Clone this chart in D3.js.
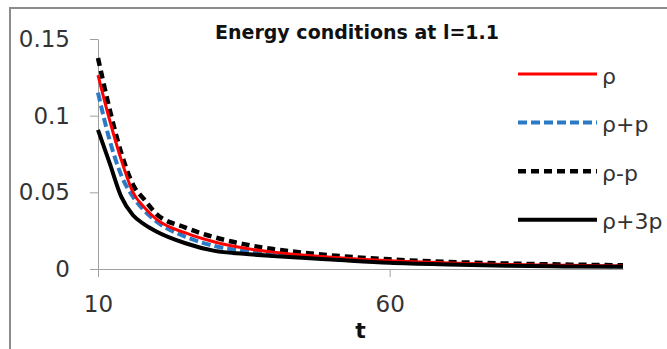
<!DOCTYPE html>
<html>
<head>
<meta charset="utf-8">
<script src="https://cdn.jsdelivr.net/npm/d3@7"></script>
<style>
  body { margin: 0; background: #fff; }
  svg { display: block; }
</style>
</head>
<body>
<div id="chart-area"></div>
<script>
// data
const tValues = [10, 12, 14, 16, 18, 20, 25, 30, 35, 40, 45, 50, 60, 70, 80, 90, 100]
const rho      = [0.1265, 0.097, 0.071, 0.050, 0.040, 0.0325, 0.0235, 0.0176, 0.0137, 0.011, 0.0091, 0.0076, 0.0053, 0.0039, 0.0030, 0.0024, 0.0020]
const rhoPlusP = [0.115, 0.084, 0.061, 0.047, 0.0378, 0.031, 0.021, 0.0150, 0.0118, 0.0096, 0.0080, 0.0067, 0.0047, 0.0035, 0.0027, 0.0022, 0.0018]
const rhoMinusP = [0.1376, 0.104, 0.0755, 0.055, 0.045, 0.036, 0.027, 0.0207, 0.0162, 0.013, 0.0107, 0.0089, 0.0063, 0.0046, 0.0036, 0.0029, 0.0024]
const rhoPlus3P = [0.0907, 0.069, 0.047, 0.035, 0.029, 0.0245, 0.0168, 0.0118, 0.0099, 0.0085, 0.0073, 0.0062, 0.0040, 0.0029, 0.0022, 0.0017, 0.0014]
const seriesNames = ["ρ", "ρ+p", "ρ-p", "ρ+3p"]
const yTicks = [0, 0.05, 0.1, 0.15]
const yTickLabels = ["0", "0.05", "0.1", "0.15"]
const xTicks = [10, 60]

const WIDTH = 667
const HEIGHT = 349
const PLOT = { LEFT: 98, RIGHT: 623, TOP: 39, BOTTOM: 269 }

const svg = d3.select("#chart-area").append("svg")
  .attr("width", WIDTH)
  .attr("height", HEIGHT)

// outer frame (cut off at right/bottom like the source)
svg.append("rect")
  .attr("x", 10)
  .attr("y", 8)
  .attr("width", 720)
  .attr("height", 400)
  .attr("fill", "none")
  .attr("stroke", "#8c8c8c")
  .attr("stroke-width", 2)

const x = d3.scaleLinear()
  .domain([10, 100])
  .range([PLOT.LEFT, PLOT.RIGHT])

const y = d3.scaleLinear()
  .domain([0, 0.15])
  .range([PLOT.BOTTOM, PLOT.TOP])

// Y axis
const yAxisCall = d3.axisLeft(y)
  .tickValues(yTicks)
  .tickFormat((d, i) => yTickLabels[i])
  .tickSize(8)
  .tickSizeOuter(0)
  .tickPadding(20)
const yAxis = svg.append("g")
  .attr("transform", `translate(${PLOT.LEFT}, 0)`)
  .call(yAxisCall)
yAxis.select(".domain").attr("stroke", "#a0a0a0")
yAxis.selectAll(".tick line").attr("stroke", "#a0a0a0")
yAxis.selectAll("text")
  .attr("font-family", "DejaVu Sans")
  .attr("font-size", "23px")
  .attr("fill", "#333")

// X axis
const xAxisCall = d3.axisBottom(x)
  .tickValues(xTicks)
  .tickFormat(d3.format("d"))
  .tickSize(8)
  .tickSizeOuter(0)
  .tickPadding(19)
const xAxis = svg.append("g")
  .attr("transform", `translate(0, ${PLOT.BOTTOM})`)
  .call(xAxisCall)
xAxis.select(".domain").attr("stroke", "#a0a0a0")
xAxis.selectAll(".tick line").attr("stroke", "#a0a0a0")
xAxis.selectAll("text")
  .attr("font-family", "DejaVu Sans")
  .attr("font-size", "23px")
  .attr("fill", "#333")

// X label
svg.append("text")
  .attr("x", (PLOT.LEFT + PLOT.RIGHT) / 2)
  .attr("y", 338)
  .attr("text-anchor", "middle")
  .attr("font-family", "DejaVu Sans")
  .attr("font-weight", "bold")
  .attr("font-size", "22px")
  .attr("fill", "#111")
  .text("t")

// title
svg.append("text")
  .attr("x", 215)
  .attr("y", 39)
  .attr("font-family", "DejaVu Sans")
  .attr("font-weight", "bold")
  .attr("font-size", "19px")
  .attr("fill", "#111")
  .text("Energy conditions at l=1.1")

const styles = [
  { color: "#ff0000", width: 3, dash: null },
  { color: "#2a7ac6", width: 4, dash: "9,4" },
  { color: "#000000", width: 4.5, dash: "8,5" },
  { color: "#000000", width: 4, dash: null }
]
const allSeries = [rho, rhoPlusP, rhoMinusP, rhoPlus3P]

const line = d3.line()
  .x(d => x(d.t))
  .y(d => y(d.v))
  .curve(d3.curveMonotoneX)

// draw blue, dashed black, red, solid black
const drawOrder = [1, 2, 0, 3]
drawOrder.forEach(i => {
  const pts = tValues.map((t, j) => ({ t: t, v: allSeries[i][j] }))
  svg.append("path")
    .datum(pts)
    .attr("d", line)
    .attr("fill", "none")
    .attr("stroke", styles[i].color)
    .attr("stroke-width", styles[i].width)
    .attr("stroke-dasharray", styles[i].dash)
})

// legend
const legend = svg.append("g")
seriesNames.forEach((name, i) => {
  const ly = 74 + i * 48.6
  legend.append("line")
    .attr("x1", 518)
    .attr("x2", 597)
    .attr("y1", ly)
    .attr("y2", ly)
    .attr("stroke", styles[i].color)
    .attr("stroke-width", styles[i].width)
    .attr("stroke-dasharray", styles[i].dash)
  legend.append("text")
    .attr("x", 602)
    .attr("y", ly + 9.5)
    .attr("font-family", "DejaVu Sans")
    .attr("font-size", "22px")
    .attr("fill", "#333")
    .text(name)
})
</script>
</body>
</html>
